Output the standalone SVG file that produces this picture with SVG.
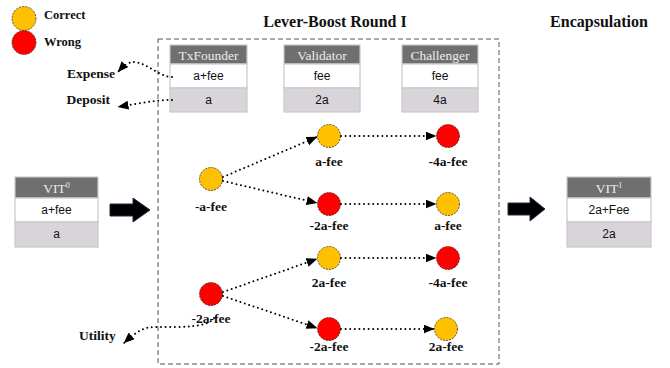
<svg xmlns="http://www.w3.org/2000/svg" width="670" height="368" viewBox="0 0 670 368">
  <defs>
    <marker id="tri" viewBox="0 0 11 9" markerWidth="11" markerHeight="9" refX="10.5" refY="4.5" orient="auto" markerUnits="userSpaceOnUse">
      <path d="M0,0 L11,4.5 L0,9 Z" fill="#000"/>
    </marker>
    <style>
      .ok { fill: #ffc000; stroke: #333; stroke-width: 0.8; stroke-dasharray: 2 1.2; }
      .bad { fill: #ff0000; stroke: #333; stroke-width: 0.8; stroke-dasharray: 2 1.2; }
      .lbl { font-family: "Liberation Serif", "Times New Roman", serif; font-weight: bold; font-size: 13.5px; fill: #111; }
      .legend { font-family: "Liberation Serif", "Times New Roman", serif; font-weight: bold; font-size: 12.5px; fill: #111; }
      .title { font-family: "Liberation Serif", "Times New Roman", serif; font-weight: bold; font-size: 16px; fill: #111; text-anchor: middle; }
      .mid { text-anchor: middle; }
      .dots { fill: none; stroke: #000; stroke-width: 2; stroke-linecap: round; stroke-dasharray: 0 4.6; }
      .hd { fill: #6f6f6f; stroke: #c9c9c9; stroke-width: 1.2; }
      .rw { fill: #ffffff; stroke: #c9c9c9; stroke-width: 1.2; }
      .rg { fill: #d8d4d9; stroke: #c9c9c9; stroke-width: 1.2; }
      .ht { font-family: "Liberation Serif", "Times New Roman", serif; font-size: 13.5px; fill: #ececec; text-anchor: middle; }
      .bt { font-family: "Liberation Sans", Arial, sans-serif; font-size: 12px; fill: #111; text-anchor: middle; }
      .big { fill: #000; stroke: #1f2a44; stroke-width: 1; }
    </style>
  </defs>

  <!-- legend -->
  <g id="legend">
    <circle class="ok" cx="24" cy="18.5" r="12"/>
    <text class="legend" x="44" y="19">Correct</text>
    <circle class="bad" cx="24" cy="42.5" r="12"/>
    <text class="legend" x="44" y="46">Wrong</text>
  </g>

  <!-- headings -->
  <text class="title" x="335" y="27">Lever-Boost Round I</text>
  <text class="title" x="599" y="27">Encapsulation</text>

  <!-- round frame -->
  <rect id="round-frame" x="158" y="39" width="341" height="325" fill="none" stroke="#555" stroke-width="1" stroke-dasharray="5 3"/>

  <!-- account tables -->
  <g id="vit0">
    <rect class="hd" x="15" y="177" width="83" height="21"/>
    <rect class="rw" x="15" y="198" width="83" height="24"/>
    <rect class="rg" x="15" y="222" width="83" height="25"/>
    <text class="ht" x="56.5" y="193">VIT<tspan font-size="8" dy="-5">0</tspan></text>
    <text class="bt" x="56.5" y="214">a+fee</text>
    <text class="bt" x="56.5" y="238">a</text>
  </g>

  <g id="txfounder">
    <rect class="hd" x="170" y="45" width="77" height="19"/>
    <rect class="rw" x="170" y="64" width="77" height="24"/>
    <rect class="rg" x="170" y="88" width="77" height="24"/>
    <text class="ht" x="208.5" y="59.5">TxFounder</text>
    <text class="bt" x="208.5" y="80">a+fee</text>
    <text class="bt" x="208.5" y="104">a</text>
  </g>

  <g id="validator">
    <rect class="hd" x="284" y="45" width="76" height="19"/>
    <rect class="rw" x="284" y="64" width="76" height="24"/>
    <rect class="rg" x="284" y="88" width="76" height="24"/>
    <text class="ht" x="322" y="59.5">Validator</text>
    <text class="bt" x="322" y="80">fee</text>
    <text class="bt" x="322" y="104">2a</text>
  </g>

  <g id="challenger">
    <rect class="hd" x="402" y="45" width="76" height="19"/>
    <rect class="rw" x="402" y="64" width="76" height="24"/>
    <rect class="rg" x="402" y="88" width="76" height="24"/>
    <text class="ht" x="440" y="59.5">Challenger</text>
    <text class="bt" x="440" y="80">fee</text>
    <text class="bt" x="440" y="104">4a</text>
  </g>

  <g id="vit1">
    <rect class="hd" x="567" y="177" width="84" height="21"/>
    <rect class="rw" x="567" y="198" width="84" height="24"/>
    <rect class="rg" x="567" y="222" width="84" height="25"/>
    <text class="ht" x="609" y="193">VIT<tspan font-size="8" dy="-5">1</tspan></text>
    <text class="bt" x="609" y="214">2a+Fee</text>
    <text class="bt" x="609" y="238">2a</text>
  </g>

  <!-- flow arrows -->
  <polygon class="big" points="110,204 133,204 133,198 150,210 133,222 133,216 110,216"/>
  <polygon class="big" points="508,203 530,203 530,197 545,209 530,221 530,215 508,215"/>

  <!-- side outputs -->
  <text class="lbl" x="115" y="78" text-anchor="end">Expense</text>
  <text class="lbl" x="110" y="104" text-anchor="end">Deposit</text>
  <text class="lbl" x="79" y="340">Utility</text>

  <!-- outcome nodes -->
  <g id="n-a">
    <circle class="ok" cx="211" cy="179" r="11.5"/>
    <text class="lbl mid" x="211" y="211">-a-fee</text>
  </g>
  <g id="n-b">
    <circle class="ok" cx="329" cy="136" r="11.5"/>
    <text class="lbl mid" x="329" y="166">a-fee</text>
  </g>
  <g id="n-c">
    <circle class="bad" cx="448" cy="136" r="11.5"/>
    <text class="lbl mid" x="448" y="166">-4a-fee</text>
  </g>
  <g id="n-d">
    <circle class="bad" cx="329" cy="204" r="11.5"/>
    <text class="lbl mid" x="329" y="230">-2a-fee</text>
  </g>
  <g id="n-e">
    <circle class="ok" cx="448" cy="204" r="11.5"/>
    <text class="lbl mid" x="448" y="230">a-fee</text>
  </g>
  <g id="n-f">
    <circle class="bad" cx="211" cy="294" r="11.5"/>
    <text class="lbl mid" x="211" y="323">-2a-fee</text>
  </g>
  <g id="n-g">
    <circle class="ok" cx="329" cy="258" r="11.5"/>
    <text class="lbl mid" x="329" y="287">2a-fee</text>
  </g>
  <g id="n-h">
    <circle class="bad" cx="448" cy="258" r="11.5"/>
    <text class="lbl mid" x="448" y="287">-4a-fee</text>
  </g>
  <g id="n-i">
    <circle class="bad" cx="329" cy="329" r="11.5"/>
    <text class="lbl mid" x="329" y="351">-2a-fee</text>
  </g>
  <g id="n-j">
    <circle class="ok" cx="446" cy="329" r="11.5"/>
    <text class="lbl mid" x="446" y="351">2a-fee</text>
  </g>

  <!-- dotted connectors -->
  <g id="connectors">
    <path class="dots" d="M172,77 C158,77 146,61 132,62 Q126,63 118,72" marker-end="url(#tri)"/>
    <path class="dots" d="M172,100 C155,100 135,104 118,107" marker-end="url(#tri)"/>
    <path class="dots" d="M214,318 C208,328 180,327 155,327 C145,327 138,330 124,343" marker-end="url(#tri)"/>
    <path class="dots" d="M223,177 L317,137" marker-end="url(#tri)"/>
    <path class="dots" d="M223,181 L317,203" marker-end="url(#tri)"/>
    <path class="dots" d="M341,136 L436,136" marker-end="url(#tri)"/>
    <path class="dots" d="M341,204 L436,204" marker-end="url(#tri)"/>
    <path class="dots" d="M223,292 L317,259" marker-end="url(#tri)"/>
    <path class="dots" d="M223,296 L317,328" marker-end="url(#tri)"/>
    <path class="dots" d="M341,258 L436,258" marker-end="url(#tri)"/>
    <path class="dots" d="M341,329 L434,329" marker-end="url(#tri)"/>
  </g>
</svg>
